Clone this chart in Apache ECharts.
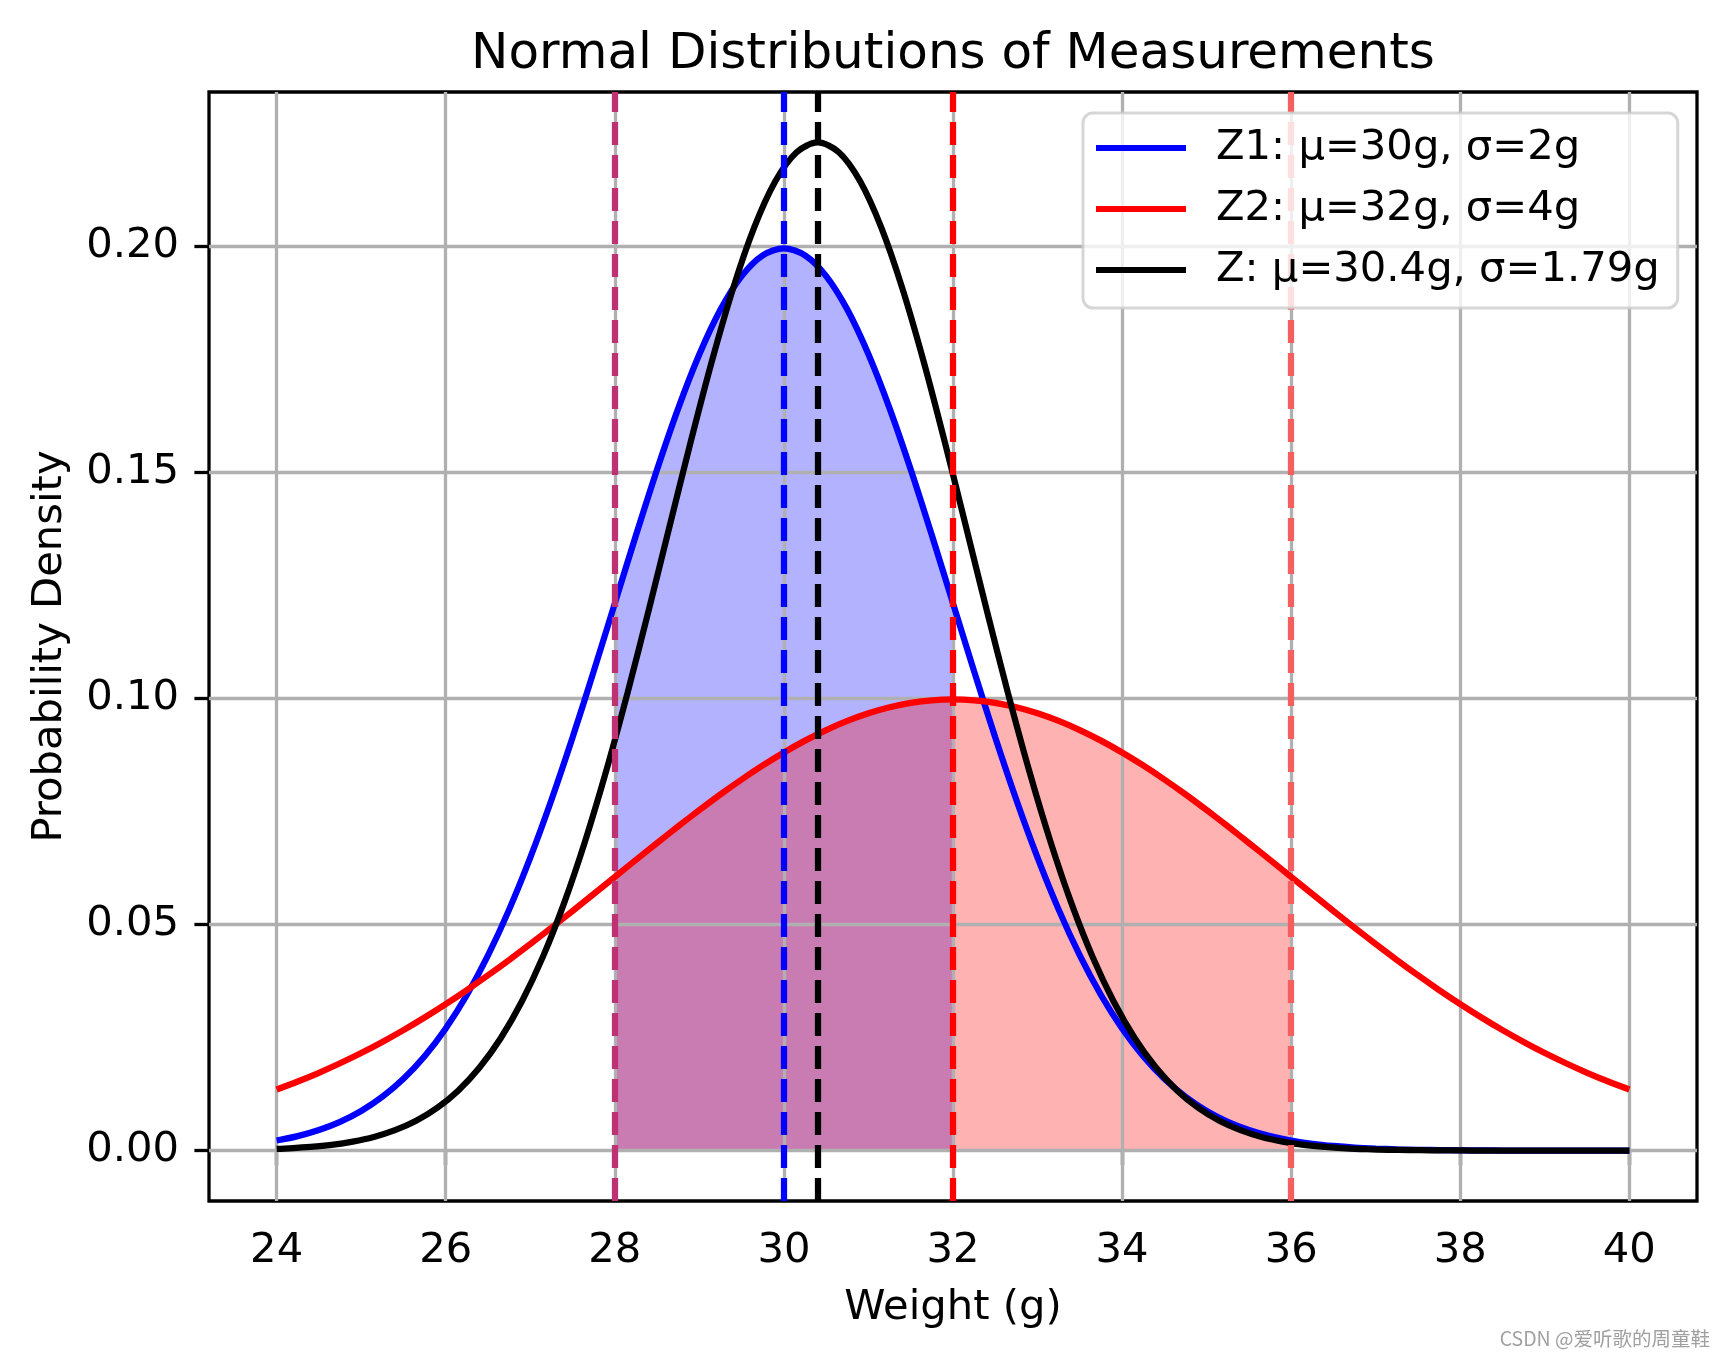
<!DOCTYPE html>
<html><head><meta charset="utf-8">
<script src="https://cdn.jsdelivr.net/npm/echarts@6/dist/echarts.min.js"></script>
<style>html,body{margin:0;padding:0;background:#fff}#c{width:1726px;height:1357px}</style>
</head><body><div id="c"></div>
<script>
// ---- data ----
const xValues = [24,24.25,24.5,24.75,25,25.25,25.5,25.75,26,26.25,26.5,26.75,27,27.25,27.5,27.75,28,28.25,28.5,28.75,29,29.25,29.5,29.75,30,30.25,30.5,30.75,31,31.25,31.5,31.75,32,32.25,32.5,32.75,33,33.25,33.5,33.75,34,34.25,34.5,34.75,35,35.25,35.5,35.75,36,36.25,36.5,36.75,37,37.25,37.5,37.75,38,38.25,38.5,38.75,39,39.25,39.5,39.75,40];
const z1Density = [0.00222,0.00320,0.00455,0.00636,0.00876,0.01188,0.01587,0.02086,0.02700,0.03439,0.04314,0.05327,0.06476,0.07751,0.09132,0.10594,0.12099,0.13603,0.15057,0.16408,0.17603,0.18593,0.19333,0.19792,0.19947,0.19792,0.19333,0.18593,0.17603,0.16408,0.15057,0.13603,0.12099,0.10594,0.09132,0.07751,0.06476,0.05327,0.04314,0.03439,0.02700,0.02086,0.01587,0.01188,0.00876,0.00636,0.00455,0.00320,0.00222,0.00151,0.00102,0.00067,0.00044,0.00028,0.00018,0.00011,0.00007,0.00004,0.00002,0.00001,0.00001,0.00000,0.00000,0.00000,0.00000];
const z2Density = [0.01350,0.01527,0.01720,0.01930,0.02157,0.02402,0.02663,0.02942,0.03238,0.03549,0.03875,0.04215,0.04566,0.04928,0.05297,0.05672,0.06049,0.06427,0.06801,0.07170,0.07528,0.07875,0.08204,0.08514,0.08802,0.09063,0.09297,0.09498,0.09667,0.09800,0.09896,0.09954,0.09974,0.09954,0.09896,0.09800,0.09667,0.09498,0.09297,0.09063,0.08802,0.08514,0.08204,0.07875,0.07528,0.07170,0.06801,0.06427,0.06049,0.05672,0.05297,0.04928,0.04566,0.04215,0.03875,0.03549,0.03238,0.02942,0.02663,0.02402,0.02157,0.01930,0.01720,0.01527,0.01350];
const zXValues = [24,24.15,24.4,24.65,24.9,25.15,25.4,25.65,25.9,26.15,26.4,26.65,26.9,27.15,27.4,27.65,27.9,28.15,28.4,28.65,28.9,29.15,29.4,29.65,29.9,30.15,30.4,30.65,30.9,31.15,31.4,31.65,31.9,32.15,32.4,32.65,32.9,33.15,33.4,33.65,33.9,34.15,34.4,34.65,34.9,35.15,35.4,35.65,35.9,36.15,36.4,36.65,36.9,37.15,37.4,37.65,37.9,38.15,38.4,38.65,38.9,39.15,39.4,39.65,39.9,40];
const zDensity = [0.00037,0.00050,0.00081,0.00128,0.00199,0.00302,0.00451,0.00659,0.00946,0.01330,0.01835,0.02483,0.03295,0.04288,0.05472,0.06848,0.08404,0.10115,0.11940,0.13819,0.15688,0.17465,0.19067,0.20414,0.21434,0.22071,0.22287,0.22071,0.21434,0.20414,0.19067,0.17465,0.15688,0.13819,0.11940,0.10115,0.08404,0.06848,0.05472,0.04288,0.03295,0.02483,0.01835,0.01330,0.00946,0.00659,0.00451,0.00302,0.00199,0.00128,0.00081,0.00050,0.00031,0.00018,0.00011,0.00006,0.00003,0.00002,0.00001,0.00000,0.00000,0.00000,0.00000,0.00000,0.00000,0.00000];
const seriesNames = ['Z1: μ=30g, σ=2g', 'Z2: μ=32g, σ=4g', 'Z: μ=30.4g, σ=1.79g'];
const fill1Range = [28, 32];
const fill2Range = [28, 36];
const sigmaLinesX = [28, 36];
const meanLinesX = [30, 32, 30.4];
const xTicks = [24, 26, 28, 30, 32, 34, 36, 38, 40];
const yTicks = [0, 0.05, 0.10, 0.15, 0.20];
const xRange = [23.2, 40.8];
const yRange = [-0.011144, 0.234024];

// ---- helpers ----
const pairs = (xs, ys) => xs.map((x, i) => [x, ys[i]]);
const inRange = (p, r) => p[0] >= r[0] && p[0] <= r[1];
const FONT = 'DejaVu Sans';
const FS = 41.7;

const chart = echarts.init(document.getElementById('c'), null, {renderer: 'canvas'});

const gridLineStyle = {color: '#b0b0b0', width: 3.3, type: 'solid', opacity: 1};
const dash = [23, 10];
const sigmaColors = ['rgb(190,50,115)', 'rgb(245,95,95)'];
const meanColors = ['#0000ff', '#ff0000', '#000000'];
const SMOOTH = 0.3;

const option = {
  animation: false,
  backgroundColor: '#ffffff',
  grid: {left: 209, top: 92, width: 1488, height: 1109, show: true, borderColor: '#000', borderWidth: 3.3, backgroundColor: 'transparent', containLabel: false, outerBoundsMode: 'none'},
  xAxis: {
    type: 'value', min: xRange[0], max: xRange[1],
    axisLine: {show: false},
    splitLine: {show: false},
    axisTick: {show: true, customValues: xTicks, length: 14.6, inside: false, lineStyle: {color: '#000', width: 3.3}},
    axisLabel: {show: true, customValues: xTicks, margin: 29, color: '#000', fontFamily: FONT, fontSize: FS, formatter: v => String(v)},
    name: 'Weight (g)', nameLocation: 'middle', nameGap: 86,
    nameTextStyle: {color: '#000', fontFamily: FONT, fontSize: FS}
  },
  yAxis: {
    type: 'value', min: yRange[0], max: yRange[1],
    axisLine: {show: false},
    splitLine: {show: false},
    axisTick: {show: true, customValues: yTicks, length: 14.6, inside: false, lineStyle: {color: '#000', width: 3.3}},
    axisLabel: {show: true, customValues: yTicks, margin: 30, color: '#000', fontFamily: FONT, fontSize: FS, formatter: v => v.toFixed(2)},
    name: 'Probability Density', nameLocation: 'middle', nameGap: 138, nameRotate: 90,
    nameTextStyle: {color: '#000', fontFamily: FONT, fontSize: FS}
  },
  legend: {
    data: seriesNames, z: 20, zlevel: 0,
    orient: 'vertical', left: 1083, top: 113,
    padding: [14, 18, 17, 13],
    itemWidth: 90, itemHeight: 6, itemGap: 19, icon: 'rect',
    backgroundColor: 'rgba(255,255,255,0.8)',
    borderColor: 'rgba(204,204,204,0.8)', borderWidth: 3, borderRadius: 10,
    textStyle: {color: '#000', fontFamily: FONT, fontSize: FS, lineHeight: 42, padding: [0, 0, 0, 25]},
    selectedMode: false
  },
  graphic: [
    {type: 'text', x: 953, y: 55, style: {text: 'Normal Distributions of Measurements', fill: '#000', font: '50px "DejaVu Sans"', textAlign: 'center', textVerticalAlign: 'middle'}},
    {type: 'text', right: 16, bottom: 9, style: {text: 'CSDN @爱听歌的周童鞋', fill: '#a0a0a0', font: '19.5px "Noto Sans CJK SC"'}}
  ],
  series: [
    {type: 'line', name: 'fill1', data: pairs(xValues, z1Density).filter(p => inRange(p, fill1Range)), smooth: SMOOTH, showSymbol: false, silent: true, z: 1,
      lineStyle: {width: 0}, areaStyle: {color: '#0000ff', opacity: 0.3, origin: 0}},
    {type: 'line', name: 'fill2', data: pairs(xValues, z2Density).filter(p => inRange(p, fill2Range)), smooth: SMOOTH, showSymbol: false, silent: true, z: 1,
      lineStyle: {width: 0}, areaStyle: {color: '#ff0000', opacity: 0.3, origin: 0}},
    {type: 'line', name: 'grid', data: [], silent: true, z: 2,
      markLine: {silent: true, z: 2, symbol: ['none', 'none'], label: {show: false}, animation: false,
        lineStyle: gridLineStyle,
        data: xTicks.map(v => ({xAxis: v})).concat(yTicks.map(v => ({yAxis: v})))}},
    {type: 'line', name: seriesNames[0], data: pairs(xValues, z1Density), smooth: SMOOTH, showSymbol: false, z: 3,
      color: '#0000ff', lineStyle: {color: '#0000ff', width: 6.25}},
    {type: 'line', name: seriesNames[1], data: pairs(xValues, z2Density), smooth: SMOOTH, showSymbol: false, z: 3,
      color: '#ff0000', lineStyle: {color: '#ff0000', width: 6.25}},
    {type: 'line', name: seriesNames[2], data: pairs(zXValues, zDensity), smooth: SMOOTH, showSymbol: false, z: 3,
      color: '#000000', lineStyle: {color: '#000000', width: 6.25}},
    {type: 'line', name: 'vlines', data: [], silent: true, z: 4,
      markLine: {silent: true, z: 4, symbol: ['none', 'none'], label: {show: false}, animation: false,
        data: sigmaLinesX.map((v, i) => ({xAxis: v, lineStyle: {color: sigmaColors[i], width: 6.25, type: dash}}))
          .concat(meanLinesX.map((v, i) => ({xAxis: v, lineStyle: {color: meanColors[i], width: 6.25, type: dash}})))}}
  ]
};
chart.setOption(option);
</script>
</body></html>
